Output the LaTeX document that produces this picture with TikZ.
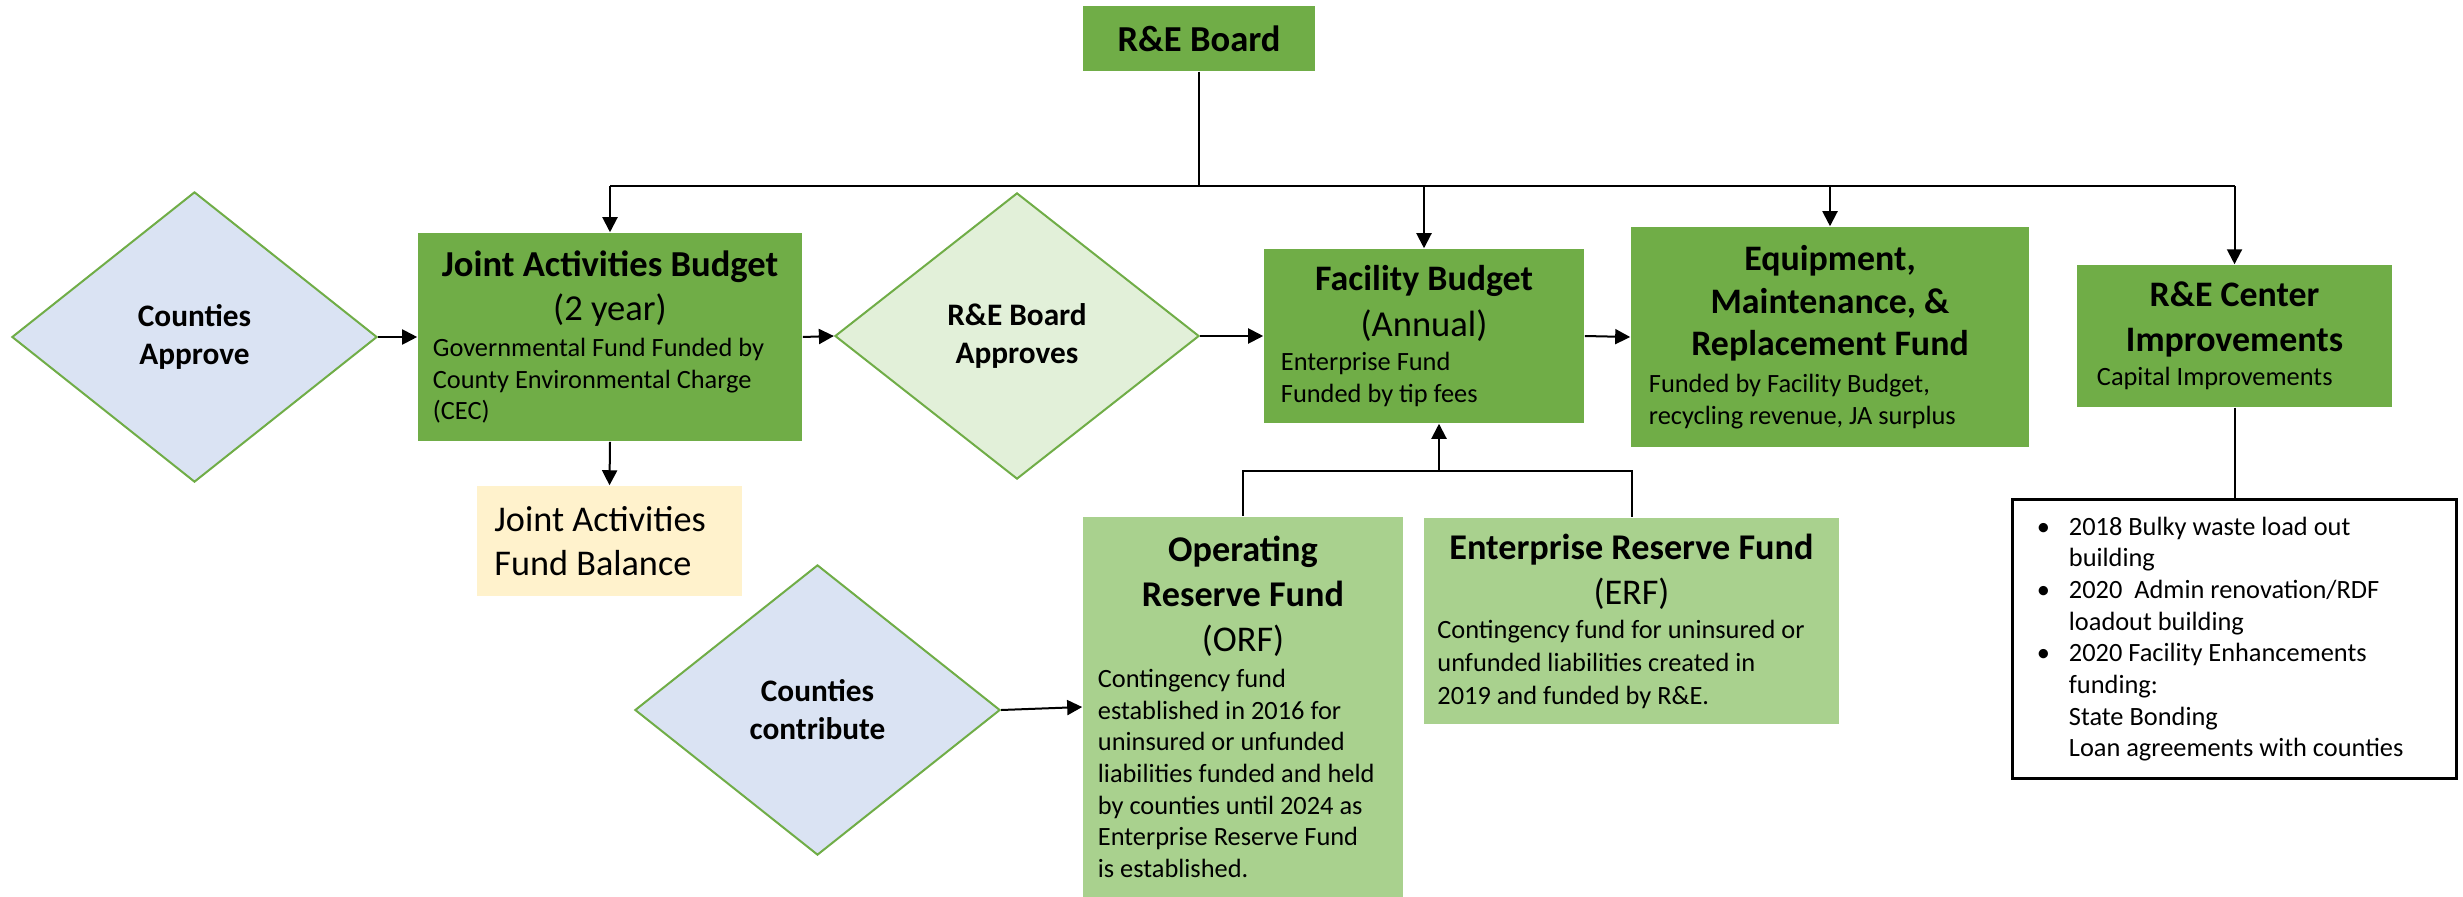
\documentclass[tikz,border=0pt]{standalone}
\usepackage{fontspec}
\setmainfont{Carlito}
\usetikzlibrary{arrows.meta,shapes.geometric,calc}
\definecolor{dkgreen}{HTML}{70AD47}
\definecolor{ltgreen}{HTML}{A9D18E}
\definecolor{paleblue}{HTML}{DAE3F3}
\definecolor{palegreen}{HTML}{E2F0D9}
\definecolor{paleyellow}{HTML}{FFF2CC}
\newcommand{\fsz}[2]{\fontsize{#1}{#2}\selectfont}

\begin{document}
\begin{tikzpicture}[x=0.01cm,y=-0.01cm,
	fundbox/.style={rectangle,fill=dkgreen,inner sep=0pt,align=flush left,font=\fsz{7.5}{9}},
	resbox/.style={rectangle,fill=ltgreen,inner sep=0pt,align=flush left,font=\fsz{7.5}{9}},
	choice/.style={diamond,draw=dkgreen,line width=0.02cm,inner sep=0pt,align=center,font=\fsz{8.9}{10.8}\bfseries},
	link/.style={line width=0.02cm},
	arr/.style={link,-{Triangle[length=0.15cm,width=0.15cm]}}]
	\useasboundingbox (0,0) rectangle (2463,897);
	\node[fundbox,minimum width=2.32cm,minimum height=0.65cm,align=center,font=\fsz{10.4}{12.7}\bfseries] (board) at (1199,38.5) {R\&E Board};
	\node[choice,fill=paleblue,minimum width=3.65cm,minimum height=2.9cm] (ca) at (194.5,337) {Counties\\Approve};
	\node[fundbox,minimum width=3.84cm,minimum height=2.08cm,text width=3.54cm] (jab) at (610,337) {{\centering\fsz{10.4}{12.6}\bfseries Joint Activities Budget\par\mdseries (2 year)\par}\vspace{1.2pt}Governmental Fund Funded by\\County Environmental Charge\\(CEC)\par};
	\node[rectangle,fill=paleyellow,inner sep=0pt,align=flush left,minimum width=2.65cm,minimum height=1.1cm,text width=2.3cm,font=\fsz{10.3}{12.5}] (jafb) at (609.5,541) {Joint Activities\\Fund Balance};
	\node[choice,fill=palegreen,minimum width=3.64cm,minimum height=2.86cm] (rba) at (1017,336) {R\&E Board\\Approves};
	\node[fundbox,minimum width=3.2cm,minimum height=1.74cm,text width=2.86cm] (fac) at (1424,336) {{\centering\fsz{10.2}{12.8}\bfseries Facility Budget\par\mdseries\fsz{10.4}{13}(Annual)\par}\vspace{0.7pt}Enterprise Fund\\Funded by tip fees\par};
	\node[fundbox,minimum width=3.98cm,minimum height=2.2cm,text width=3.62cm] (emr) at (1830,337) {{\centering\fsz{10.2}{12.1}\bfseries Equipment,\\Maintenance, \&\\Replacement Fund\par}\vspace{1.5pt}Funded by Facility Budget,\\recycling revenue, JA surplus\par};
	\node[fundbox,minimum width=3.15cm,minimum height=1.42cm,text width=2.75cm] (cen) at (2234.5,336) {{\centering\fsz{10.2}{12.8}\bfseries R\&E Center\\Improvements\par}\vspace{0.7pt}Capital Improvements\par};
	\node[rectangle,draw=black,line width=0.03cm,inner sep=0pt,align=flush left,minimum width=4.43cm,minimum height=2.78cm,text width=3.95cm,font=\fsz{7.5}{9}] (list) at (2234.5,639) {\makebox[0.32cm][l]{\textbullet}2018 Bulky waste load out\\
		\hspace*{0.32cm}building\\
		\makebox[0.32cm][l]{\textbullet}2020\ \ Admin renovation/RDF\\
		\hspace*{0.32cm}loadout building\\
		\makebox[0.32cm][l]{\textbullet}2020 Facility Enhancements\\
		\hspace*{0.32cm}funding:\\
		\hspace*{0.32cm}State Bonding\\
		\hspace*{0.32cm}Loan agreements with counties};
	\node[choice,fill=paleblue,minimum width=3.65cm,minimum height=2.9cm] (cc) at (817.5,710) {Counties\\contribute};
	\node[resbox,minimum width=3.2cm,minimum height=3.8cm,text width=2.9cm] (orf) at (1243,707) {{\centering\fsz{10.3}{12.8}\bfseries Operating\\Reserve Fund\par\mdseries (ORF)\par}\vspace{1.2pt}Contingency fund\\established in 2016 for\\uninsured or unfunded\\liabilities funded and held\\by counties until 2024 as\\Enterprise Reserve Fund\\is established.\par};
	\node[resbox,minimum width=4.15cm,minimum height=2.06cm,text width=3.88cm] (erf) at (1631.5,621) {{\centering\fsz{10.3}{12.8}\bfseries Enterprise Reserve Fund\par\mdseries (ERF)\par}\vspace{0.5pt}\fsz{7.5}{9.3}Contingency fund for uninsured or\\unfunded liabilities created in\\2019 and funded by R\&E.\par};
	\coordinate (bus) at (1199,186);
	\coordinate (resv) at (1439,471);
	\draw[link] (board.south) -- (bus);
	\draw[link] (jab.north |- bus) -- (cen.north |- bus);
	\foreach \n in {jab,fac,emr,cen} \draw[arr] (\n.north |- bus) -- (\n.north);
	\draw[arr] (ca.east) -- (jab.west);
	\draw[arr] (jab.east) -- (rba.west);
	\draw[arr] (rba.east) -- (fac.west);
	\draw[arr] (fac.east) -- (emr.west);
	\draw[arr] (jab.south) -- (jafb.north);
	\draw[arr] (cc.east) -- (orf.west);
	\draw[link] (cen.south) -- (list.north);
	\draw[link] (orf.north) -- (orf.north |- resv) -- (erf.north |- resv) -- (erf.north);
	\draw[arr] (resv) -- (resv |- fac.south);
\end{tikzpicture}
\end{document}
